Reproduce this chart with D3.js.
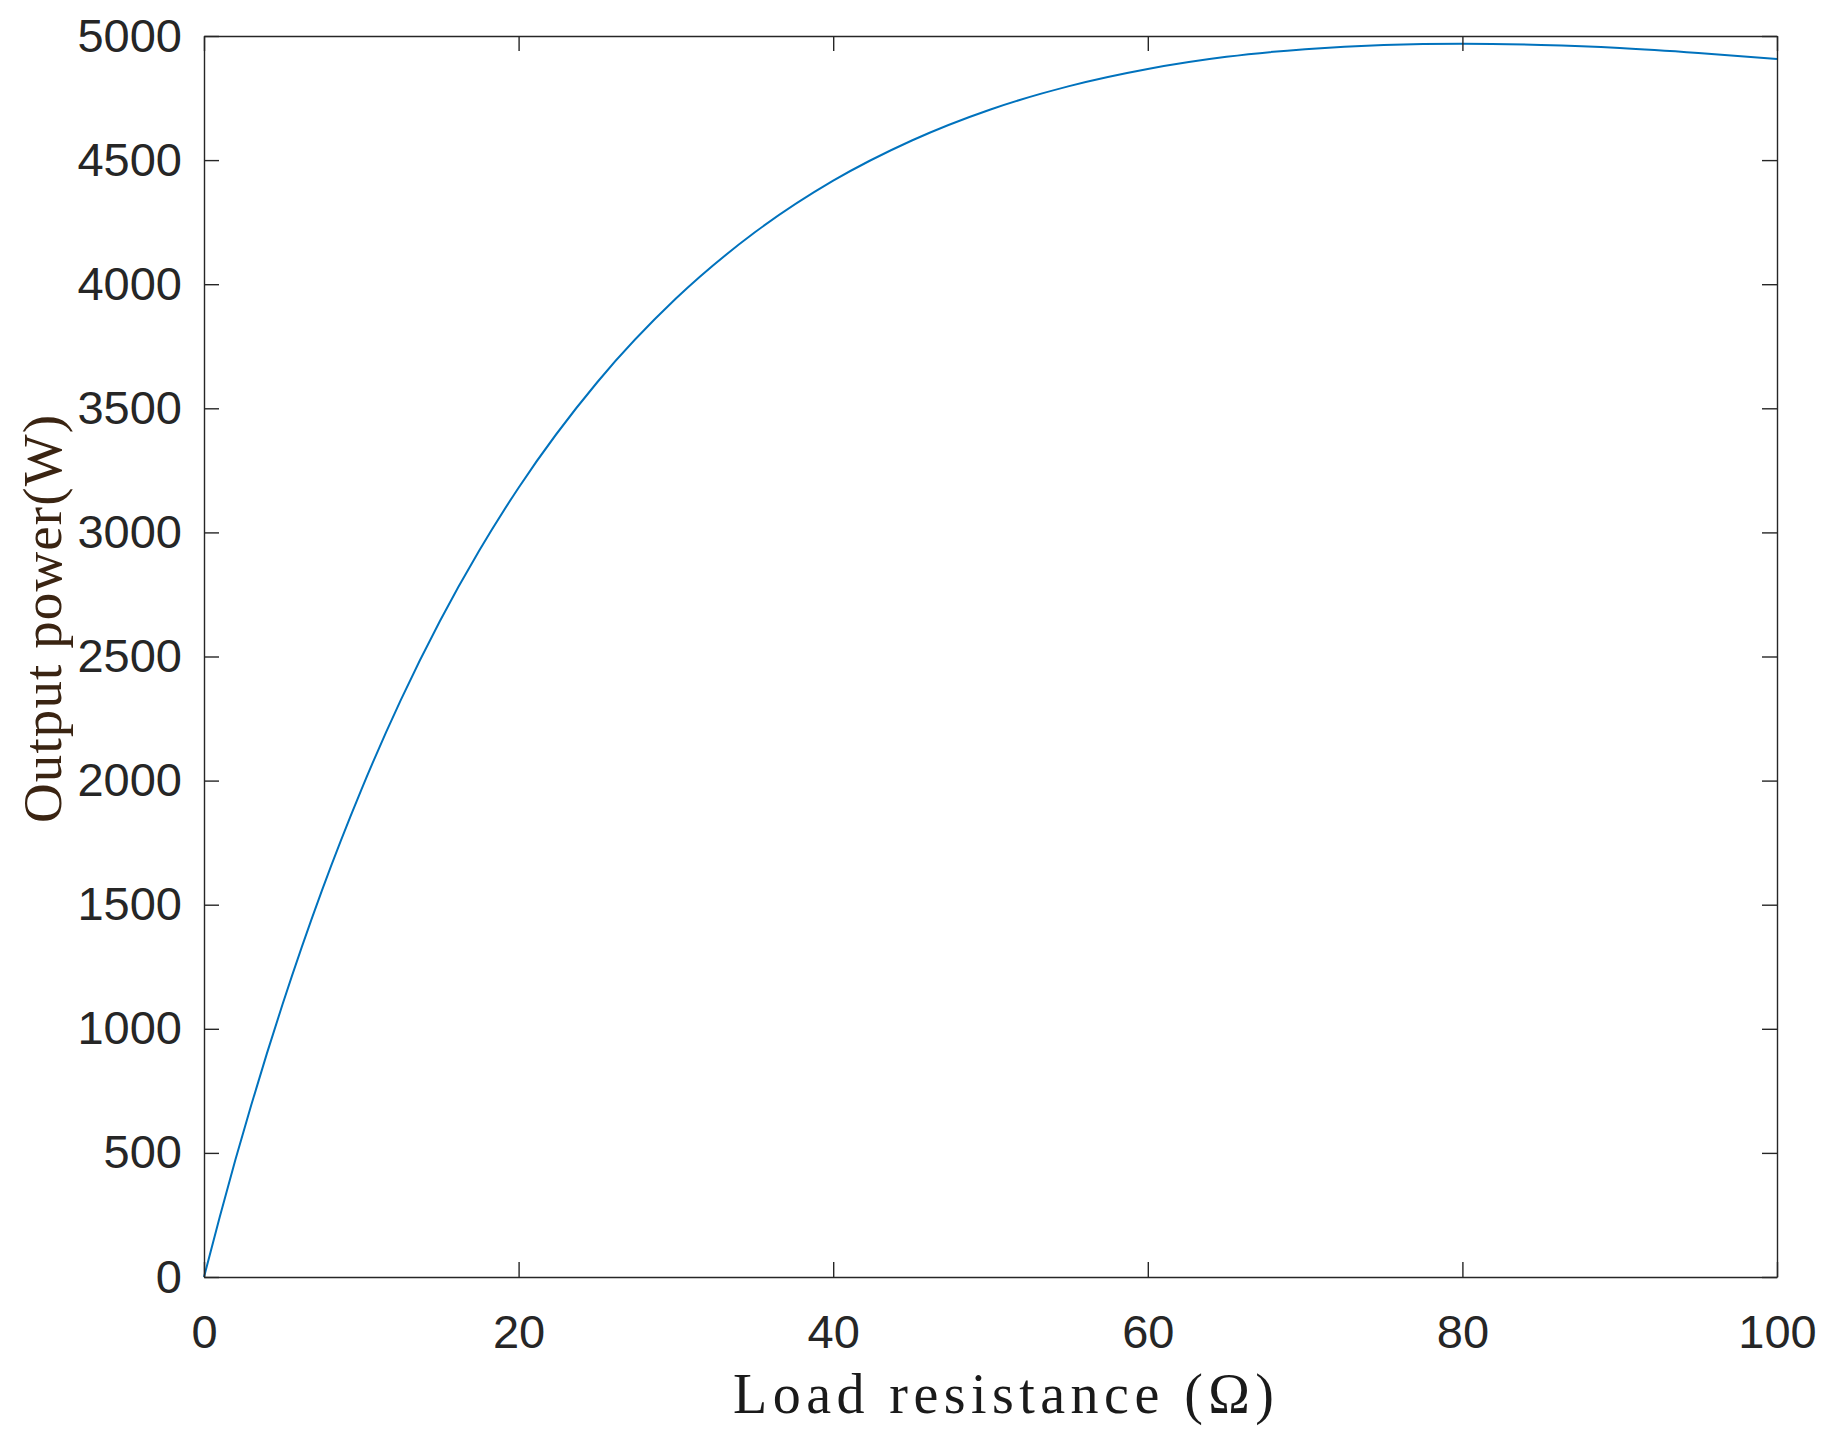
<!DOCTYPE html>
<html>
<head>
<meta charset="utf-8">
<script src="https://cdn.jsdelivr.net/npm/d3@7"></script>
<style>
  html, body { margin: 0; padding: 0; background: #fff; }
  svg { display: block; }
</style>
</head>
<body>
<svg id="chart" width="1831" height="1435"></svg>
<script>
// Load resistance (Ω)
const resistance = [0, 1, 2, 3, 4, 5, 7.5, 10, 12.5, 15, 17.5, 20, 25, 30, 35, 40, 45, 50, 55, 60, 65, 70, 75, 80, 85, 90, 95, 100];
// Output power (W)
const power = [0, 242, 473, 692, 901, 1100, 1558, 1963, 2323, 2643, 2927, 3180, 3605, 3942, 4208, 4417, 4579, 4704, 4798, 4867, 4916, 4947, 4964, 4969, 4964, 4952, 4932, 4907];
const xTicks = [0, 20, 40, 60, 80, 100];
const yTicks = [0, 500, 1000, 1500, 2000, 2500, 3000, 3500, 4000, 4500, 5000];
const xLabel = "Load resistance (Ω)";
const yLabel = "Output power(W)";

const svg = d3.select("#chart");
const L = 204, R = 1777, T = 36, B = 1277;

const x = d3.scaleLinear().domain([0, 100]).range([L, R]);
const y = d3.scaleLinear().domain([0, 5000]).range([B, T]);

const axisColor = "#262626";
const tickFont = "'Liberation Sans', Arial, Helvetica, sans-serif";

function styleAxis(g) {
  g.selectAll("path.domain").attr("stroke", axisColor).attr("stroke-width", 1.4);
  g.selectAll(".tick line").attr("stroke", axisColor).attr("stroke-width", 1.4);
  g.selectAll(".tick text").attr("fill", axisColor).attr("font-size", 47).attr("font-family", tickFont);
}

const line = d3.line()
  .x((d, i) => x(resistance[i]))
  .y(d => y(d))
  .curve(d3.curveMonotoneX);

svg.append("path")
  .datum(power)
  .attr("fill", "none")
  .attr("stroke", "#0072BD")
  .attr("stroke-width", 2)
  .attr("d", line);

svg.append("g")
  .attr("transform", `translate(0,${B})`)
  .call(d3.axisBottom(x).tickValues(xTicks).tickSizeInner(-15).tickSizeOuter(0).tickPadding(38).tickFormat(d3.format("d")))
  .call(styleAxis);

svg.append("g")
  .attr("transform", `translate(0,${T})`)
  .call(d3.axisTop(x).tickValues(xTicks).tickSizeInner(-15).tickSizeOuter(0).tickFormat(""))
  .call(styleAxis);

svg.append("g")
  .attr("transform", `translate(${L},0)`)
  .call(d3.axisLeft(y).tickValues(yTicks).tickSizeInner(-15).tickSizeOuter(0).tickPadding(22).tickFormat(d3.format("d")))
  .call(styleAxis);

svg.append("g")
  .attr("transform", `translate(${R},0)`)
  .call(d3.axisRight(y).tickValues(yTicks).tickSizeInner(-15).tickSizeOuter(0).tickFormat(""))
  .call(styleAxis);

const labelFont = "'Liberation Serif', 'Times New Roman', serif";

svg.append("text")
  .attr("x", 733)
  .attr("y", 1413)
  .attr("text-anchor", "start")
  .attr("font-family", labelFont)
  .attr("font-size", 56)
  .attr("textLength", 541)
  .attr("lengthAdjust", "spacing")
  .attr("fill", "#1a1a1a")
  .text(xLabel);

svg.append("text")
  .attr("transform", "translate(61,823) rotate(-90)")
  .attr("text-anchor", "start")
  .attr("font-family", labelFont)
  .attr("font-size", 55)
  .attr("textLength", 408)
  .attr("lengthAdjust", "spacing")
  .attr("fill", "#3a2412")
  .text(yLabel);
</script>
</body>
</html>
